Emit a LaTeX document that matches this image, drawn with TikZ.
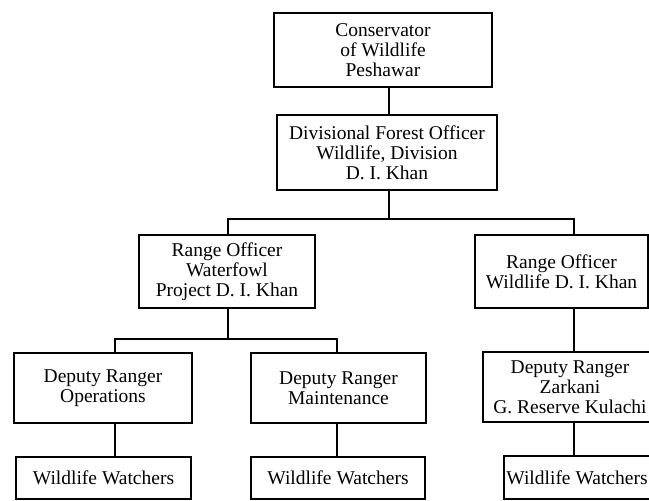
\documentclass[tikz,border=0pt]{standalone}
\usepackage{fontspec}
\setmainfont{Liberation Serif}
\begin{document}
\begin{tikzpicture}[x=1pt,y=-1pt,
  post/.style={draw, line width=1.2pt, rectangle, inner sep=0pt, align=center,
    font=\fontsize{19.5}{20}\selectfont},
  headpost/.style={post, line width=2.6pt},
  link/.style={line width=1.4pt}]
  % page area and clipping
  \path[use as bounding box, fill=white] (0,0) rectangle (649,501);
  \clip (0,0) rectangle (649,501);

  % column positions of the connector drops
  \coordinate (colc) at (389,0);
  \coordinate (colw) at (228,0);
  \coordinate (colr) at (574,0);
  \coordinate (coll) at (115,0);
  \coordinate (colm) at (337,0);
  \coordinate (bus1) at (0,219);
  \coordinate (bus2) at (0,339);

  % posts
  \node[headpost, minimum width=218pt, minimum height=74pt] (cons) at (383,50)
    {Conservator\\of Wildlife\\Peshawar};
  \node[post, minimum width=220pt, minimum height=75pt] (dfo) at (387,152.5)
    {Divisional Forest Officer\\Wildlife, Division\\D. I. Khan};
  \node[post, minimum width=176pt, minimum height=73pt] (rowf) at (227,271.5)
    {Range Officer\\Waterfowl\\Project D. I. Khan};
  \node[post, minimum width=173pt, minimum height=73pt] (rowl) at (561.5,271.5)
    {Range Officer\\Wildlife D. I. Khan};
  \node[post, minimum width=178pt, minimum height=70pt] (dro) at (103,388)
    {Deputy Ranger\\Operations};
  \node[post, minimum width=175pt, minimum height=70pt] (drm) at (338.5,388)
    {Deputy Ranger\\Maintenance};
  \node[post, minimum width=174pt, minimum height=70pt] (drz) at (570,387)
    {Deputy Ranger\\Zarkani\\G. Reserve Kulachi};
  \node[post, minimum width=175pt, minimum height=42pt] (ww1) at (103.5,478)
    {Wildlife Watchers};
  \node[post, minimum width=174pt, minimum height=42pt] (ww2) at (338,478)
    {Wildlife Watchers};
  % runs on past the right edge of the page
  \node[post, minimum width=150pt, minimum height=43pt] (ww3) at (579,477.5)
    {\hspace*{-4pt}Wildlife Watchers};

  % connectors
  \draw[link] (cons.south -| colc) -- (dfo.north -| colc);
  \draw[link] (dfo.south -| colc) |- (bus1 -| colw) -- (rowf.north -| colw);
  \draw[link] (dfo.south -| colc) |- (bus1 -| colr) -- (rowl.north -| colr);
  \draw[link] (rowf.south -| colw) |- (bus2 -| coll) -- (dro.north -| coll);
  \draw[link] (rowf.south -| colw) |- (bus2 -| colm) -- (drm.north -| colm);
  \draw[link] (rowl.south -| colr) -- (drz.north -| colr);
  \draw[link] (dro.south -| coll) -- (ww1.north -| coll);
  \draw[link] (drm.south -| colm) -- (ww2.north -| colm);
  \draw[link] (drz.south -| colr) -- (ww3.north -| colr);
\end{tikzpicture}
\end{document}
